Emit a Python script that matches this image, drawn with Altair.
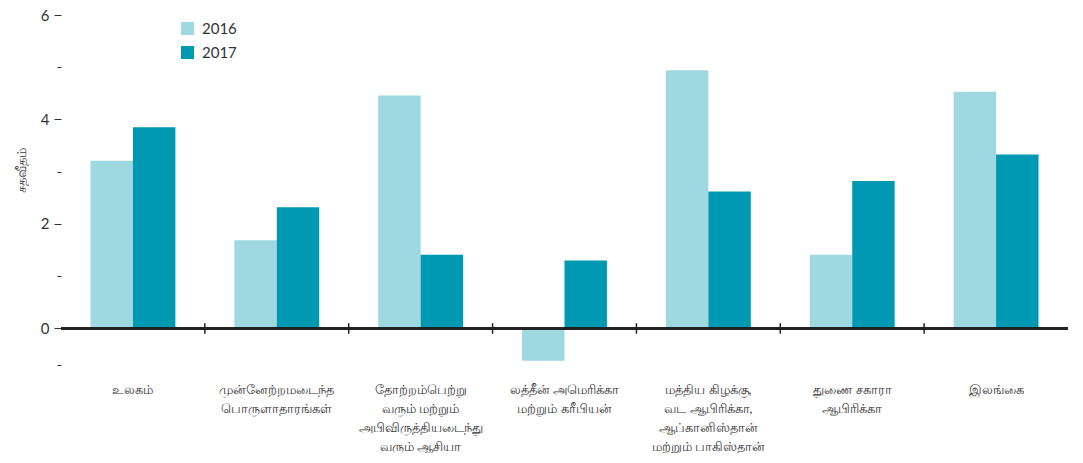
import altair as alt
import pandas as pd

categories = [
    "உலகம்",
    "முன்னேற்றமடைந்த|பொருளாதாரங்கள்",
    "தோற்றம்பெற்று|வரும்  மற்றும்|அபிவிருத்தியடைந்து|வரும்  ஆசியா",
    "லத்தீன்  அமெரிக்கா|மற்றும்  கரீபியன்",
    "மத்திய  கிழக்கு,|வட ஆபிரிக்கா,|ஆப்கானிஸ்தான்|மற்றும்  பாகிஸ்தான்",
    "துணை  சகாரா|ஆபிரிக்கா",
    "இலங்கை",
]
years = ["2016", "2017"]
values_2016 = [3.21, 1.69, 4.46, -0.62, 4.94, 1.41, 4.53]
values_2017 = [3.85, 2.32, 1.41, 1.30, 2.62, 2.82, 3.33]
colors = ["#9ed8e1", "#0099b3"]
y_ticks = [6, 5, 4, 3, 2, 1, 0, -0.7]
boundaries = [1, 2, 3, 4, 5, 6]

rows = []
for c, a, b in zip(categories, values_2016, values_2017):
    rows.append({"cat": c, "year": years[0], "value": a})
    rows.append({"cat": c, "year": years[1], "value": b})
df = pd.DataFrame(rows)
bdf = pd.DataFrame({"b": boundaries})

W, H = 1007, 350
y_min, y_max = -0.7, 6

FONT = "Lato"
TXT = "#333333"

x_scale = alt.Scale(domain=categories, paddingInner=0.41, paddingOuter=0.205)
y_scale = alt.Scale(domain=[y_min, y_max], nice=False, zero=False)

bars = alt.Chart(df).mark_bar().encode(
    x=alt.X(
        "cat:N",
        scale=x_scale,
        sort=categories,
        title=None,
        axis=alt.Axis(
            orient="bottom",
            domain=False,
            ticks=False,
            labelAngle=0,
            labelExpr="split(datum.label, '|')",
            labelFontSize=12.5,
            labelLineHeight=19,
            labelPadding=18,
            labelColor=TXT,
            labelBaseline="top",
            labelLimit=0,
        ),
    ),
    xOffset=alt.XOffset("year:N", sort=years, scale=alt.Scale(paddingInner=0, paddingOuter=0)),
    y=alt.Y(
        "value:Q",
        scale=y_scale,
        title="சதவீதம்",
        axis=alt.Axis(
            values=y_ticks,
            domain=False,
            grid=False,
            labelExpr="datum.value % 2 == 0 ? datum.label : ''",
            labelFontSize=15,
            labelColor=TXT,
            labelPadding=5,
            tickColor=TXT,
            tickSize={"condition": {"test": "datum.value % 2 == 0", "value": 7}, "value": 4},
            titleFontSize=12.5,
            titleFontWeight="normal",
            titleColor=TXT,
            titlePadding=12,
            titleY=155,
        ),
    ),
    color=alt.Color(
        "year:N",
        scale=alt.Scale(domain=years, range=colors),
        legend=alt.Legend(
            title=None,
            orient="none",
            legendX=119,
            legendY=6,
            symbolType="square",
            symbolSize=169,
            symbolStrokeWidth=0,
            labelFontSize=15,
            labelColor=TXT,
            labelOffset=7,
            rowPadding=8,
        ),
    ),
)

zero_line = alt.Chart(df).mark_rule(color="#222222", strokeWidth=1.5).encode(
    y=alt.datum(0, scale=y_scale)
)

boundary_ticks = alt.Chart(bdf).mark_rule(color="#222222", strokeWidth=1.5).encode(
    x=alt.X("b:Q", scale=alt.Scale(domain=[0, len(categories)], nice=False, zero=False), axis=None),
    y=alt.datum(-0.1, scale=y_scale),
    y2=alt.datum(0.1),
)

chart = (
    alt.layer(bars, zero_line, boundary_ticks)
    .resolve_scale(x="independent")
    .properties(width=W, height=H, padding={"left": 7, "top": 0, "right": 0, "bottom": 0})
    .configure(font=FONT)
    .configure_view(stroke=None)
)

chart.save("out.html", embed_options={"renderer": "svg", "actions": False})
